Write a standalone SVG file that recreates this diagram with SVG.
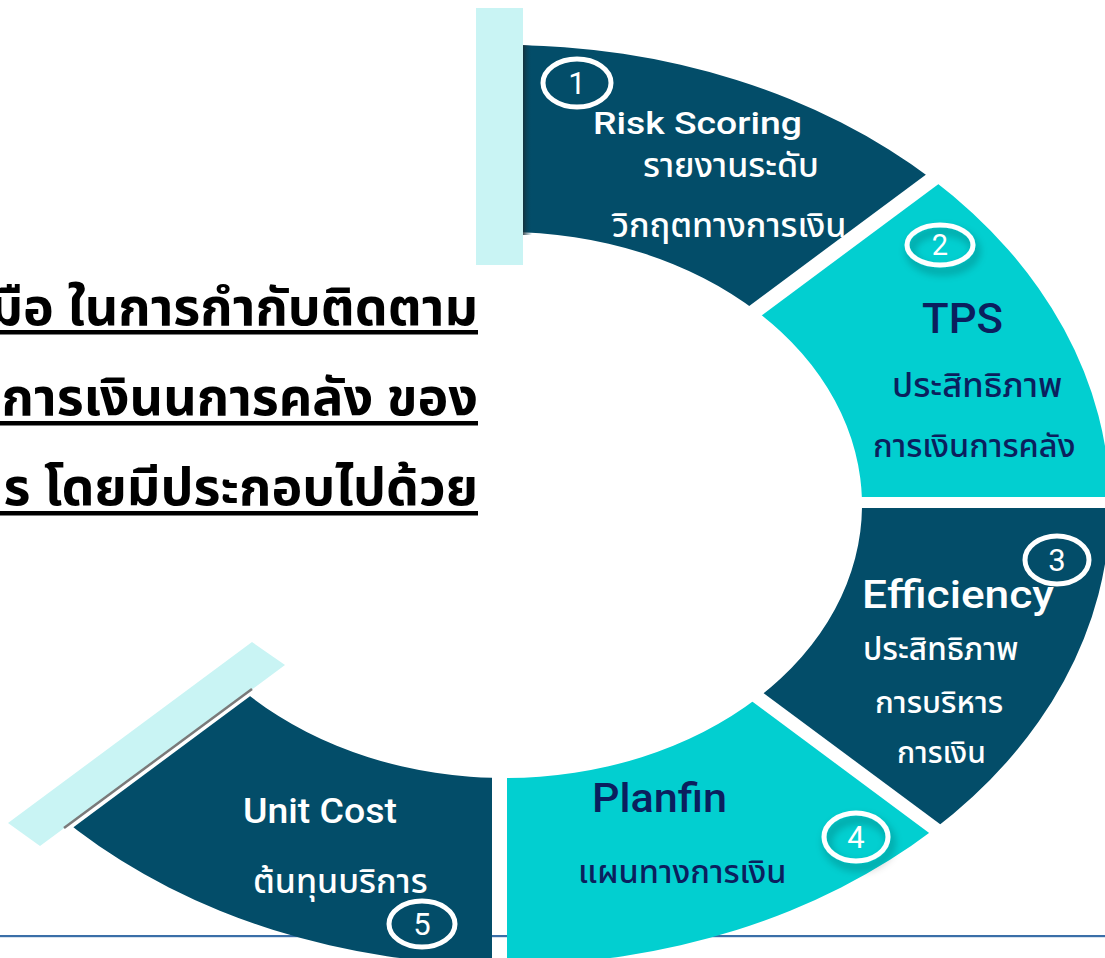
<svg xmlns="http://www.w3.org/2000/svg" width="1105" height="958" viewBox="0 0 1105 958">
<style>
.dark{fill:#034d69}
.cyan{fill:#02cfd0}
.bar{fill:#c9f4f4}
.en{font-family:Roboto,"Liberation Sans","Noto Sans",sans-serif;font-weight:500}
.th{font-family:"Noto Sans Thai","Noto Sans Thai UI","Noto Sans","Liberation Sans",sans-serif;font-weight:500}
.w{fill:#ffffff}
.n{fill:#0b1f5e}
.num{font-family:Roboto,"Liberation Sans",sans-serif;font-weight:400;fill:#ffffff;text-anchor:middle}
.ring{fill:none;stroke:#ffffff;stroke-width:5}
.big{font-family:"Noto Sans Thai","Noto Sans","Liberation Sans",sans-serif;font-weight:700;fill:#000000;text-anchor:end}
</style>
<defs>
<path id="ringshape" fill-rule="evenodd" d="M -100,505 a605,460 0 1,0 1210,0 a605,460 0 1,0 -1210,0 Z M 148,505 a357,273 0 1,0 714,0 a357,273 0 1,0 -714,0 Z"/>
<clipPath id="c1"><polygon points="523,-50 523,474 1200,-29 1200,-50"/></clipPath>
<clipPath id="c2"><polygon points="517,497 1200,-10 1200,497"/></clipPath>
<clipPath id="c3"><polygon points="514,508 1200,508 1200,1017"/></clipPath>
<clipPath id="c4"><polygon points="507,519.5 1200,1034 1200,1100 507,1100"/></clipPath>
<clipPath id="c5"><polygon points="492,516.5 492,1100 -100,1100 -100,956"/></clipPath>
<linearGradient id="edge" x1="0" y1="0" x2="1" y2="0">
<stop offset="0" stop-color="#1a2a30" stop-opacity="0.8"/>
<stop offset="1" stop-color="#034d69" stop-opacity="0"/>
</linearGradient>
<filter id="sh" x="-50%" y="-50%" width="200%" height="200%">
<feGaussianBlur in="SourceAlpha" stdDeviation="5"/>
<feOffset dx="3" dy="6"/>
<feComponentTransfer><feFuncA type="linear" slope="0.35"/></feComponentTransfer>
<feMerge><feMergeNode/><feMergeNode in="SourceGraphic"/></feMerge>
</filter>
</defs>
<rect x="0" y="0" width="1105" height="958" fill="#ffffff"/>
<rect x="0" y="935" width="1105" height="2.2" fill="#3a6fa8"/>

<g id="title">
<text class="big" x="478" y="325" font-size="52">มือ ในการกำกับติดตาม</text>
<rect x="0" y="330" width="478" height="4.5" fill="#000"/>
<text class="big" x="478" y="415" font-size="52">างการเงินนการคลัง ของ</text>
<rect x="0" y="421" width="478" height="4.5" fill="#000"/>
<text class="big" x="478" y="505" font-size="52">การ โดยมีประกอบไปด้วย</text>
<rect x="0" y="511" width="478" height="4.5" fill="#000"/>
</g>

<g id="seg1">
<rect class="bar" x="476" y="8" width="47" height="257"/>
<use href="#ringshape" class="dark" clip-path="url(#c1)"/>
<rect x="523" y="45" width="9" height="190" fill="url(#edge)"/>
<ellipse class="ring" cx="577" cy="83" rx="34" ry="24"/>
<text class="num" x="577" y="94" font-size="31">1</text>
<text class="en w" x="593" y="134" font-size="32" textLength="209" lengthAdjust="spacingAndGlyphs">Risk Scoring</text>
<text class="th w" x="643" y="177" font-size="34">รายงานระดับ</text>
<text class="th w" x="612" y="237" font-size="34">วิกฤตทางการเงิน</text>
</g>

<g id="seg2">
<use href="#ringshape" class="cyan" clip-path="url(#c2)"/>
<g filter="url(#sh)">
<ellipse class="ring" cx="940" cy="245" rx="33" ry="20"/>
</g>
<text class="num" x="940" y="255" font-size="29" fill="#e8fbfb">2</text>
<text class="en n" x="922" y="333" font-size="42" textLength="81" lengthAdjust="spacingAndGlyphs">TPS</text>
<text class="th n" x="892" y="397" font-size="34.5">ประสิทธิภาพ</text>
<text class="th n" x="873" y="457" font-size="32.5">การเงินการคลัง</text>
</g>

<g id="seg3">
<use href="#ringshape" class="dark" clip-path="url(#c3)"/>
<ellipse class="ring" cx="1057" cy="560" rx="32" ry="24"/>
<text class="num" x="1057" y="571" font-size="31">3</text>
<text class="en w" x="862" y="608" font-size="38" textLength="192" lengthAdjust="spacingAndGlyphs">Efficiency</text>
<text class="th w" x="863" y="660" font-size="31.5">ประสิทธิภาพ</text>
<text class="th w" x="875" y="713" font-size="31">การบริหาร</text>
<text class="th w" x="897" y="763" font-size="30">การเงิน</text>
</g>

<g id="seg4">
<use href="#ringshape" class="cyan" clip-path="url(#c4)"/>
<g filter="url(#sh)">
<ellipse class="ring" cx="856" cy="837" rx="32" ry="24"/>
</g>
<text class="num" x="856" y="848" font-size="31" fill="#e8fbfb">4</text>
<text class="en n" x="592" y="812" font-size="40" textLength="135" lengthAdjust="spacingAndGlyphs">Planfin</text>
<text class="th n" x="578" y="883" font-size="32.5">แผนทางการเงิน</text>
</g>

<g id="seg5">
<polygon class="bar" points="8,823 40,846 285,665 252,642"/>
<line x1="64" y1="828" x2="252" y2="689" stroke="#7a7a7a" stroke-width="2.5"/>
<use href="#ringshape" class="dark" clip-path="url(#c5)"/>
<text class="en w" x="243" y="823" font-size="35" textLength="154" lengthAdjust="spacingAndGlyphs">Unit Cost</text>
<text class="th w" x="253" y="893" font-size="34">ต้นทุนบริการ</text>
<ellipse class="ring" cx="422" cy="924" rx="33" ry="23"/>
<text class="num" x="422" y="935" font-size="31">5</text>
</g>
<g id="connectors"/>
</svg>
